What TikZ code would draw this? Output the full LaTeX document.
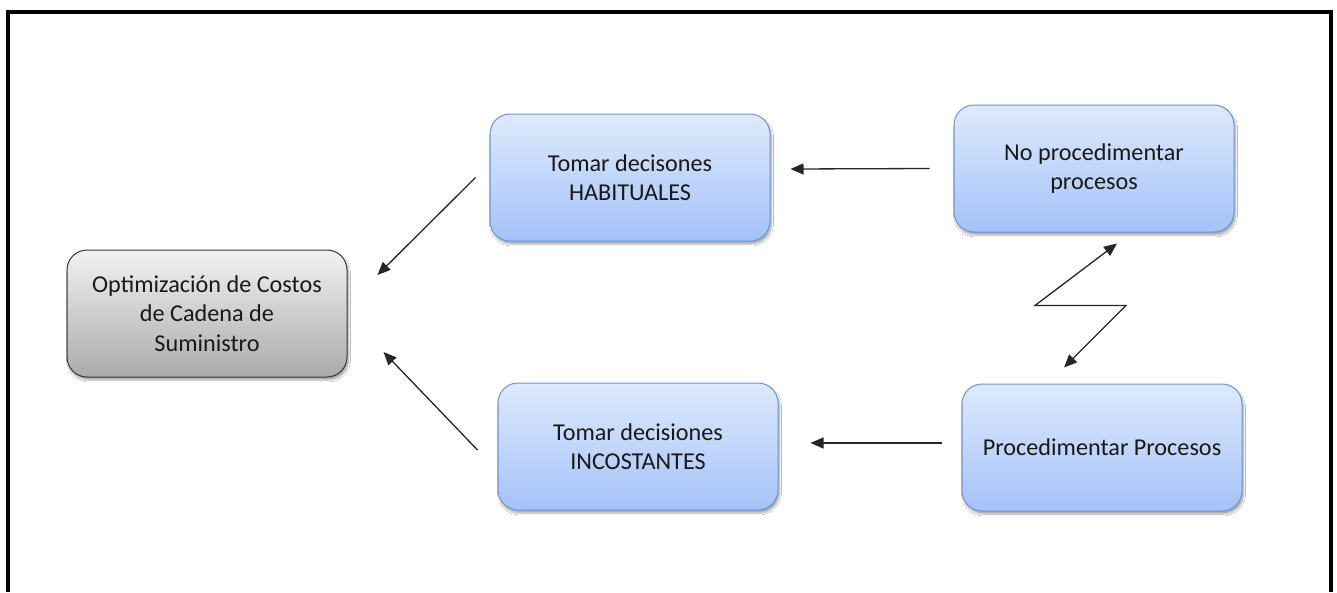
\documentclass[tikz,border=0pt]{standalone}
\usepackage{fontspec}
\setmainfont{Carlito}
\usetikzlibrary{arrows.meta,shadows.blur}
\definecolor{bluetop}{RGB}{222,234,252}
\definecolor{bluebot}{RGB}{164,194,249}
\definecolor{blueedge}{RGB}{104,150,222}
\definecolor{graytop}{RGB}{242,242,242}
\definecolor{graybot}{RGB}{170,170,170}
\definecolor{grayedge}{RGB}{55,55,55}
\definecolor{txt}{RGB}{25,25,25}
\tikzset{
  x=1pt, y=-1pt,
  box/.style={rounded corners=20pt, minimum width=280pt, minimum height=127pt,
    align=center, text=txt, line width=1pt,
    font=\fontsize{24.2pt}{29.5pt}\selectfont,
    blur shadow={shadow xshift=1.5pt, shadow yshift=-3pt, shadow blur steps=6, shadow opacity=35}},
  bluebox/.style={box, draw=blueedge, top color=bluetop, bottom color=bluebot},
  graybox/.style={box, draw=grayedge, top color=graytop, bottom color=graybot},
  arr/.style={line width=1.3pt, draw=black!85, -{Triangle[length=13pt,width=11pt]}},
  darr/.style={line width=1.3pt, draw=black!85, {Triangle[length=13pt,width=11pt]}-{Triangle[length=13pt,width=11pt]}}
}
\begin{document}
\begin{tikzpicture}
\useasboundingbox (0,0) rectangle (1337,592);
\fill[white] (0,0) rectangle (1337,592);
\draw[line width=4pt] (8,592) -- (8,12) -- (1331,12) -- (1331,592);

\node[graybox] (opt) at (207,313.5) {Optimización de Costos\\de Cadena de\\Suministro};
\node[bluebox] (hab) at (630,177.5) {Tomar decisones\\HABITUALES};
\node[bluebox] (noproc) at (1094,168.5) {No procedimentar\\procesos};
\node[bluebox] (inc) at (638,446.5) {Tomar decisiones\\INCOSTANTES};
\node[bluebox] (proc) at (1102,447.5) {Procedimentar Procesos};

\draw[arr] ([xshift=-24pt]noproc.west) -- ([xshift=20pt,yshift=8.5pt]hab.east);
\draw[arr] ([xshift=-20pt,yshift=4.5pt]proc.west) -- ([xshift=32pt,yshift=3.5pt]inc.east);
\draw[arr] ([xshift=-14pt]hab.west) -- ([xshift=30pt,yshift=38.5pt]opt.east);
\draw[arr] ([xshift=-20pt,yshift=-3.5pt]inc.west) -- ([xshift=36pt,yshift=-38.5pt]opt.east);
\draw[darr] ([xshift=-38pt,yshift=16pt]proc.north) -- ++(62,-62) -- ++(-91,0) -- ([xshift=23pt,yshift=-11pt]noproc.south);
\end{tikzpicture}
\end{document}
